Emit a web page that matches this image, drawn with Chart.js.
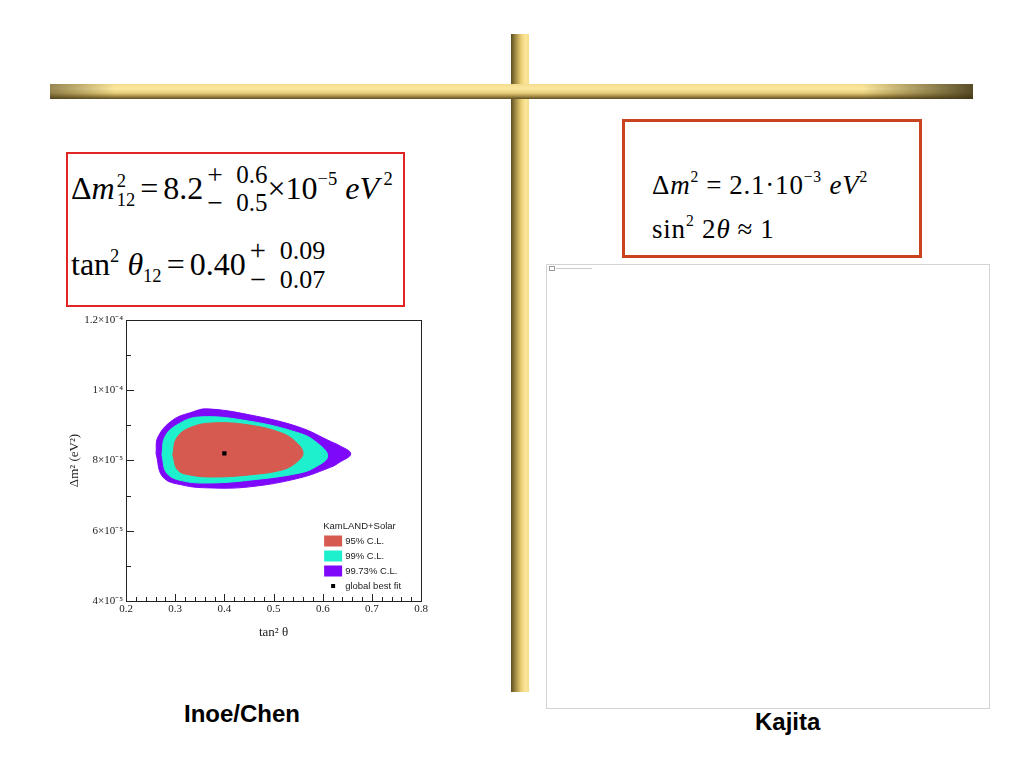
<!DOCTYPE html>
<html>
<head>
<meta charset="utf-8">
<script src="https://cdn.jsdelivr.net/npm/chart.js@4.4.1/dist/chart.umd.min.js"></script>
<style>
    body { margin: 0; width: 1024px; height: 768px; background: #fff; position: relative; overflow: hidden; }
    .abs { position: absolute; }
    .serif { font-family: "Liberation Serif", "Times New Roman", serif; color: #000; white-space: nowrap; }
    .vbar { left: 511px; top: 34px; width: 18px; height: 658px;
        background: linear-gradient(to right, #5a4c1e 0%, #a08a44 25%, #e8cc74 55%, #fbe69a 80%, #f6dc88 100%); }
    .hbar { left: 50px; top: 84px; width: 923px; height: 15px;
        background: linear-gradient(to bottom, #f4dc8c 0%, #fbe8a0 30%, #e8cf7a 60%, #a48c48 82%, #5c4e22 100%); }
    .hbar::after { content: ""; position: absolute; inset: 0;
        background: linear-gradient(to right, rgba(70,58,24,0.55) 0%, rgba(70,58,24,0) 7%, rgba(70,58,24,0) 88%, rgba(60,50,20,0.85) 100%); }
    .box1 { left: 66px; top: 152px; width: 335px; height: 151px; border: 2px solid #e12424; }
    .box2 { left: 622px; top: 119px; width: 294px; height: 133px; border: 3px solid #c8431e; }
    .panel { left: 546px; top: 264px; width: 442px; height: 443px; border: 1px solid #d4d4d4; }
    .stack { display: inline-block; vertical-align: middle; line-height: 1.12; position: relative; top: -3px; margin-left: 4px; font-size: 25px; }
    .stack > span { display: block; }
    .sg { display: inline-block; width: 1.05em; font-size: 1.1em; line-height: 0.9; position: relative; top: 1px; }
    .ss { display: inline-block; vertical-align: middle; line-height: 1.05; font-size: 58%; position: relative; top: -2px; }
    .ss span { display: block; }
    sup { font-size: 58%; vertical-align: 0.75em; line-height: 0; }
    .op { margin: 0 5px; }
    .cap { font-family: "Liberation Sans", Arial, sans-serif; font-weight: bold; font-size: 24px; color: #000; }
</style>
</head>
<body>
<div class="abs vbar"></div>
<div class="abs hbar"></div>

<div class="abs box1"></div>
<div class="abs serif" style="left:71px; top:164px; font-size:32px;">Δ<i>m</i><span class="ss" style="margin-left:2px;"><span>2</span><span>12</span></span><span class="op">=</span>8.2<span class="stack"><span><span class="sg">+</span>0.6</span><span><span class="sg">−</span>0.5</span></span>×10<sup>−5</sup> <i>eV</i><sup> 2</sup></div>
<div class="abs serif" style="left:71px; top:239px; font-size:32px;">tan<sup>2</sup> <i>θ</i><span class="ss" style="vertical-align:-0.35em; top:0;"><span>12</span></span><span class="op">=</span>0.40<span class="stack" style="font-size:26px;"><span><span class="sg">+</span>0.09</span><span><span class="sg">−</span>0.07</span></span></div>

<div class="abs box2"></div>
<div class="abs serif" style="left:652px; top:170px; font-size:27px; letter-spacing:0.8px;">Δ<i>m</i><sup>2</sup><span class="op" style="margin:0 7px;">=</span>2.1·10<sup>−3</sup> <i>eV</i><sup>2</sup></div>
<div class="abs serif" style="left:652px; top:214px; font-size:27px; letter-spacing:0.8px;">sin<sup>2</sup> 2<i>θ</i><span class="op" style="margin:0 7px;">≈</span>1</div>

<div class="abs panel"></div>
<div class="abs" style="left:549px; top:266px; width:4px; height:3px; border:1px solid #999;"></div>
<div class="abs" style="left:556px; top:268px; width:36px; height:1px; background:#ccc;"></div>

<canvas id="clChart" class="abs" width="390" height="340" style="left:40px; top:310px;"></canvas>

<div class="abs cap" style="left:184px; top:700px;">Inoe/Chen</div>
<div class="abs cap" style="left:755px; top:708px;">Kajita</div>

<script>
// ======================================
// DATA (tan^2 theta, delta m^2 in eV^2)
// ======================================
const xTickValues = [0.2, 0.3, 0.4, 0.5, 0.6, 0.7, 0.8];
const xTickLabels = ["0.2", "0.3", "0.4", "0.5", "0.6", "0.7", "0.8"];
const yTickValues = [4e-5, 6e-5, 8e-5, 1e-4, 1.2e-4];
const yTickLabels = ["4×10⁻⁵", "6×10⁻⁵", "8×10⁻⁵", "1×10⁻⁴", "1.2×10⁻⁴"];
const xMinorStep = 0.02;
const yMinorStep = 1e-5;

const seriesLabels = ["95% C.L.", "99% C.L.", "99.73% C.L.", "global best fit"];

// contour outlines, clockwise from the left edge
const cl95X = [0.295, 0.303, 0.329, 0.376, 0.451, 0.517, 0.545, 0.560, 0.545, 0.517, 0.451, 0.376, 0.329, 0.305, 0.295];
const cl95Y = [8.16e-5, 8.64e-5, 8.93e-5, 9.07e-5, 9.01e-5, 8.78e-5, 8.53e-5, 8.21e-5, 7.93e-5, 7.73e-5, 7.59e-5, 7.53e-5, 7.59e-5, 7.73e-5, 8.16e-5];

const cl99X = [0.273, 0.279, 0.303, 0.349, 0.451, 0.552, 0.586, 0.610, 0.586, 0.552, 0.451, 0.370, 0.315, 0.283, 0.273];
const cl99Y = [8.16e-5, 8.67e-5, 9.01e-5, 9.24e-5, 9.12e-5, 8.78e-5, 8.53e-5, 8.13e-5, 7.82e-5, 7.64e-5, 7.44e-5, 7.36e-5, 7.42e-5, 7.64e-5, 8.16e-5];

const cl9973X = [0.261, 0.265, 0.295, 0.335, 0.364, 0.451, 0.552, 0.618, 0.632, 0.657, 0.632, 0.618, 0.552, 0.451, 0.370, 0.315, 0.275, 0.261];
const cl9973Y = [8.20e-5, 8.67e-5, 9.15e-5, 9.38e-5, 9.47e-5, 9.30e-5, 8.95e-5, 8.53e-5, 8.44e-5, 8.19e-5, 7.93e-5, 7.82e-5, 7.50e-5, 7.25e-5, 7.22e-5, 7.30e-5, 7.53e-5, 8.20e-5];

const bestFitX = [0.40];
const bestFitY = [8.2e-5];

const colors = ["rgb(214,90,80)", "rgb(30,240,205)", "rgb(126,8,250)", "#000"];

const toPoints = (xs, ys) => xs.map((x, i) => ({ x: x, y: ys[i] }));

// ======================================
// PLUGINS
// ======================================
// ROOT style frame with ticks pointing inward
const frameTicks = {
    id: "frameTicks",
    afterDraw(chart) {
        const c = chart.ctx;
        const a = chart.chartArea;
        const sx = chart.scales.x, sy = chart.scales.y;
        c.save();
        c.strokeStyle = "#222";
        c.lineWidth = 1;
        c.strokeRect(Math.round(a.left) + 0.5, Math.round(a.top) + 0.5, Math.round(a.right - a.left), Math.round(a.bottom - a.top));
        c.beginPath();
        sx.ticks.forEach(t => {
            const px = Math.round(sx.getPixelForValue(t.value)) + 0.5;
            const len = t.label ? 7 : 4;
            c.moveTo(px, a.bottom);
            c.lineTo(px, a.bottom - len);
        });
        sy.ticks.forEach(t => {
            const py = Math.round(sy.getPixelForValue(t.value)) + 0.5;
            const len = t.label ? 8 : 5;
            c.moveTo(a.left, py);
            c.lineTo(a.left + len, py);
        });
        c.stroke();
        c.restore();
    }
};

// legend box in the lower right of the plot
const clLegend = {
    id: "clLegend",
    afterDraw(chart) {
        const c = chart.ctx;
        const a = chart.chartArea;
        const x0 = a.right - 98;
        let y = a.bottom - 75;
        c.save();
        c.font = "9.5px 'Liberation Sans', Arial, sans-serif";
        c.textBaseline = "middle";
        c.fillStyle = "#222";
        c.fillText("KamLAND+Solar", x0, y);
        y += 15;
        chart.data.datasets.forEach((ds, i) => {
            c.fillStyle = ds.backgroundColor;
            if (i < 3) {
                c.fillRect(x0 + 1, y - 5.5, 18, 11);
            } else {
                c.fillRect(x0 + 8, y - 2, 4, 4);
            }
            c.fillStyle = "#222";
            c.fillText(ds.label, x0 + 22, y);
            y += 15;
        });
        c.restore();
    }
};

// ======================================
// CHART
// ======================================
const tickFont = { family: "'Liberation Serif', 'Times New Roman', serif", size: 11 };
const findLabel = (v, vals, labels, eps) => {
    const k = vals.findIndex(t => Math.abs(t - v) < eps);
    return k >= 0 ? labels[k] : "";
};

const ctx = document.getElementById("clChart");
new Chart(ctx, {
    type: "scatter",
    data: {
        datasets: [
            { label: seriesLabels[0], data: toPoints(cl95X, cl95Y), showLine: true, fill: "shape", tension: 0.4,
              backgroundColor: colors[0], borderColor: colors[0], borderWidth: 1, pointRadius: 0, order: 1 },
            { label: seriesLabels[1], data: toPoints(cl99X, cl99Y), showLine: true, fill: "shape", tension: 0.4,
              backgroundColor: colors[1], borderColor: colors[1], borderWidth: 1, pointRadius: 0, order: 2 },
            { label: seriesLabels[2], data: toPoints(cl9973X, cl9973Y), showLine: true, fill: "shape", tension: 0.4,
              backgroundColor: colors[2], borderColor: colors[2], borderWidth: 1, pointRadius: 0, order: 3 },
            { label: seriesLabels[3], data: toPoints(bestFitX, bestFitY), showLine: false, pointStyle: "rect",
              pointRadius: 3, backgroundColor: colors[3], borderColor: colors[3], borderWidth: 0, order: 0 }
        ]
    },
    options: {
        responsive: false,
        animation: false,
        devicePixelRatio: 1,
        layout: { padding: { top: 10, right: 7, left: 0, bottom: 0 } },
        plugins: { legend: { display: false }, tooltip: { enabled: false } },
        scales: {
            x: {
                type: "linear",
                min: 0.2,
                max: 0.8,
                afterFit: s => { s.height = 49; },
                afterBuildTicks: s => {
                    const t = [];
                    for (let i = 0; i <= Math.round((0.8 - 0.2) / xMinorStep); i++) t.push({ value: 0.2 + i * xMinorStep });
                    s.ticks = t;
                },
                ticks: {
                    autoSkip: false, maxRotation: 0, padding: 2, color: "#222", font: tickFont,
                    callback: v => findLabel(v, xTickValues, xTickLabels, 1e-6)
                },
                grid: { display: false, drawTicks: false },
                border: { display: false },
                title: { display: true, text: "tan² θ", color: "#222", padding: { top: 0, bottom: 10 },
                    font: { family: tickFont.family, size: 13 } }
            },
            y: {
                type: "linear",
                min: 4e-5,
                max: 1.2e-4,
                afterFit: s => { s.width = 86; },
                afterBuildTicks: s => {
                    const t = [];
                    for (let i = 0; i <= Math.round((1.2e-4 - 4e-5) / yMinorStep); i++) t.push({ value: 4e-5 + i * yMinorStep });
                    s.ticks = t;
                },
                ticks: {
                    autoSkip: false, padding: 3, color: "#222", font: tickFont,
                    callback: v => findLabel(v, yTickValues, yTickLabels, 1e-9)
                },
                grid: { display: false, drawTicks: false },
                border: { display: false },
                title: { display: true, text: "Δm² (eV²)", color: "#222", padding: { top: 27, bottom: 0 },
                    font: { family: tickFont.family, size: 13 } }
            }
        }
    },
    plugins: [frameTicks, clLegend]
});
</script>
</body>
</html>
